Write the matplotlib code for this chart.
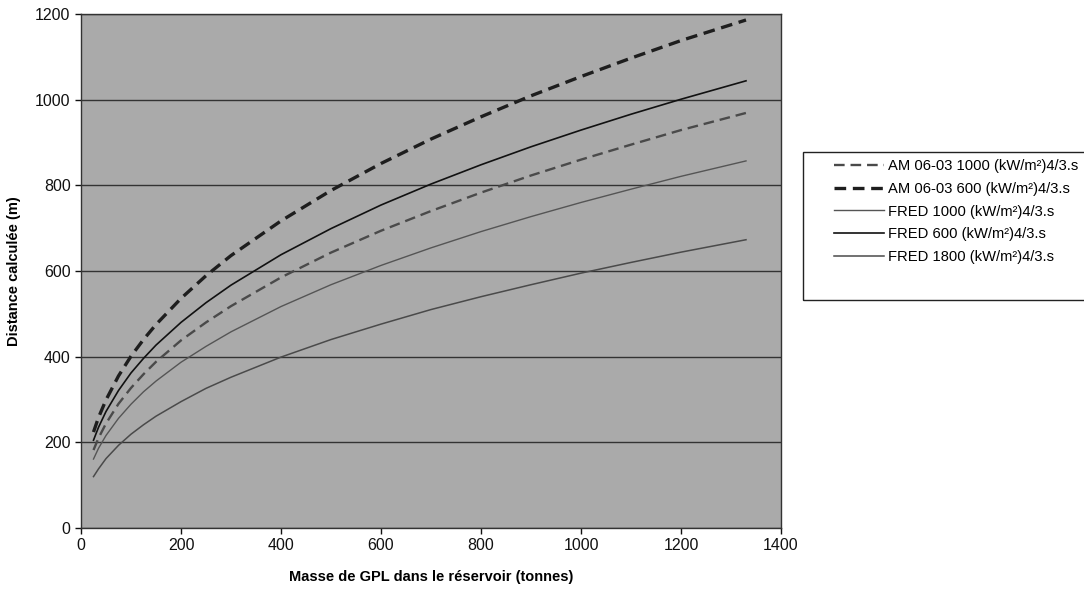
import matplotlib
matplotlib.use("Agg")
import matplotlib.pyplot as plt
from matplotlib.patches import Rectangle

plt.rcParams['font.family'] = ['Liberation Sans', 'DejaVu Sans']

# masse de GPL (tonnes)
masse = [25, 35, 50, 75, 100, 125, 150, 200, 250, 300, 400, 500, 600, 700, 800,
         900, 1000, 1100, 1200, 1330]

am_1000 = [182, 210, 244, 290, 327, 359, 388, 438, 480, 518, 585, 643, 694, 740, 783,
           823, 860, 895, 929, 969]
am_600 = [224, 258, 299, 355, 401, 440, 475, 536, 589, 636, 717, 788, 851, 908, 960,
          1009, 1054, 1097, 1138, 1186]
fred_1000 = [161, 186, 216, 256, 289, 318, 343, 387, 424, 458, 517, 568, 613, 654, 692,
             727, 760, 791, 821, 857]
fred_600 = [205, 235, 272, 321, 362, 396, 427, 480, 526, 567, 638, 699, 754, 803, 848,
            890, 929, 966, 1001, 1044]
fred_1800 = [120, 138, 162, 193, 219, 241, 261, 295, 326, 352, 399, 440, 476, 510, 540,
             568, 595, 620, 644, 673]

labels = ["AM 06-03 1000 (kW/m²)4/3.s", "AM 06-03 600 (kW/m²)4/3.s",
          "FRED 1000 (kW/m²)4/3.s", "FRED 600 (kW/m²)4/3.s", "FRED 1800 (kW/m²)4/3.s"]

fig = plt.figure(figsize=(10.84, 5.91), dpi=100)
ax = fig.add_axes([81/1084, 1 - 528/591, 700/1084, 514/591])
ax.set_facecolor('#aaaaaa')

ax.plot(masse, am_1000, color='#4a4a4a', lw=1.7, dashes=(4.5, 2.5), label=labels[0])
ax.plot(masse, am_600, color='#1e1e1e', lw=2.4, dashes=(3.5, 2), label=labels[1])
ax.plot(masse, fred_1000, color='#555555', lw=1.0, label=labels[2])
ax.plot(masse, fred_600, color='#111111', lw=1.2, label=labels[3])
ax.plot(masse, fred_1800, color='#4a4a4a', lw=1.1, label=labels[4])

ax.set_xlim(0, 1400)
ax.set_ylim(0, 1200)
ax.set_xticks(range(0, 1401, 200))
ax.set_yticks(range(0, 1201, 200))
ax.yaxis.grid(True, color='#333333', lw=1.0)
ax.set_axisbelow(True)
ax.tick_params(direction='out', length=4, width=1, labelsize=11.5, colors='#111111')
for s in ax.spines.values():
    s.set_color('#333333')
    s.set_linewidth(1.0)

ax.set_xlabel("Masse de GPL dans le réservoir (tonnes)", fontsize=10.5, fontweight='bold', labelpad=12)
ax.set_ylabel("Distance calculée (m)", fontsize=10.5, fontweight='bold', labelpad=10)

# cadre de la légende
fig.patches.append(Rectangle((803/1084, 1 - 300/591), 290/1084, 148/591,
                             transform=fig.transFigure, fill=False,
                             edgecolor='#222222', lw=1.0))
fig.legend(loc='upper left', bbox_to_anchor=(828/1084, 1 - 153/591), frameon=False,
           fontsize=10.6, handlelength=3.4, handletextpad=0.3, labelspacing=0.6,
           borderaxespad=0)

fig.savefig("out.png", dpi=100)
